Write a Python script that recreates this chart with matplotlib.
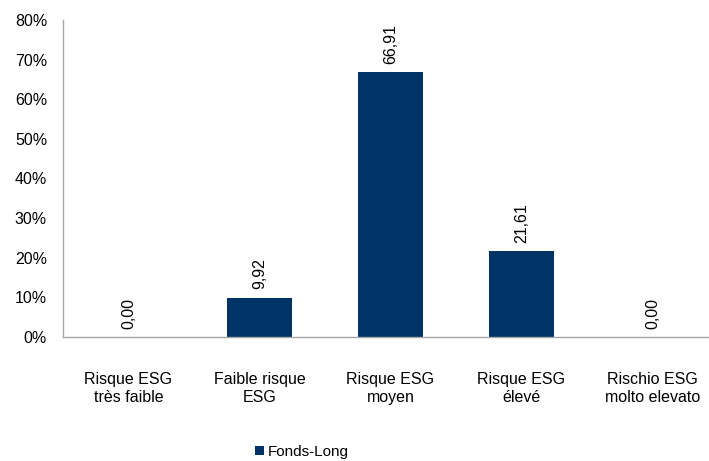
import matplotlib
matplotlib.use("Agg")
import matplotlib.pyplot as plt
from matplotlib.ticker import FuncFormatter

plt.rcParams['font.family'] = ['Liberation Sans', 'DejaVu Sans']

categories = ["Risque ESG\ntrès faible", "Faible risque\nESG", "Risque ESG\nmoyen",
              "Risque ESG\nélevé", "Rischio ESG\nmolto elevato"]
values = [0.00, 9.92, 66.91, 21.61, 0.00]
labels = ["0,00", "9,92", "66,91", "21,61", "0,00"]
series_name = "Fonds-Long"
yticks = [0, 10, 20, 30, 40, 50, 60, 70, 80]

W, H = 709, 461
fig = plt.figure(figsize=(W / 100, H / 100), dpi=100)
left, right, top, bottom = 63, 718, 20, 337
ax = fig.add_axes([left / W, 1 - bottom / H, (right - left) / W, (bottom - top) / H])

navy = "#003366"
x = list(range(len(categories)))
bars = ax.bar(x, values, width=0.5, color=navy, label=series_name, zorder=2)

ax.set_xlim(-0.5, len(categories) - 0.5)
ax.set_ylim(0, 80)
ax.set_yticks(yticks)
ax.yaxis.set_major_formatter(FuncFormatter(lambda v, p: f"{int(v)}%"))
ax.set_xticks(x)
ax.set_xticklabels(categories, fontsize=11.5, linespacing=1.3)

for s in ["top", "right"]:
    ax.spines[s].set_visible(False)
for s in ["left", "bottom"]:
    ax.spines[s].set_color("#A6A6A6")
    ax.spines[s].set_linewidth(1.0)

ax.tick_params(axis="y", length=0, pad=11.5, labelsize=11.5, colors="black")
ax.tick_params(axis="x", length=0, pad=25, labelsize=11.5, colors="black")

for xi, v, lab in zip(x, values, labels):
    ax.annotate(lab, (xi, v), xytext=(0, 6), textcoords="offset points",
                rotation=90, ha="center", va="bottom", fontsize=11.5)

leg = fig.legend(handles=[bars], labels=[series_name], loc="center",
                 bbox_to_anchor=(302 / W, 1 - 452 / H), frameon=False,
                 fontsize=11, handlelength=0.6, handleheight=0.6,
                 handletextpad=0.25, borderpad=0)

fig.savefig("out.png", dpi=100)
